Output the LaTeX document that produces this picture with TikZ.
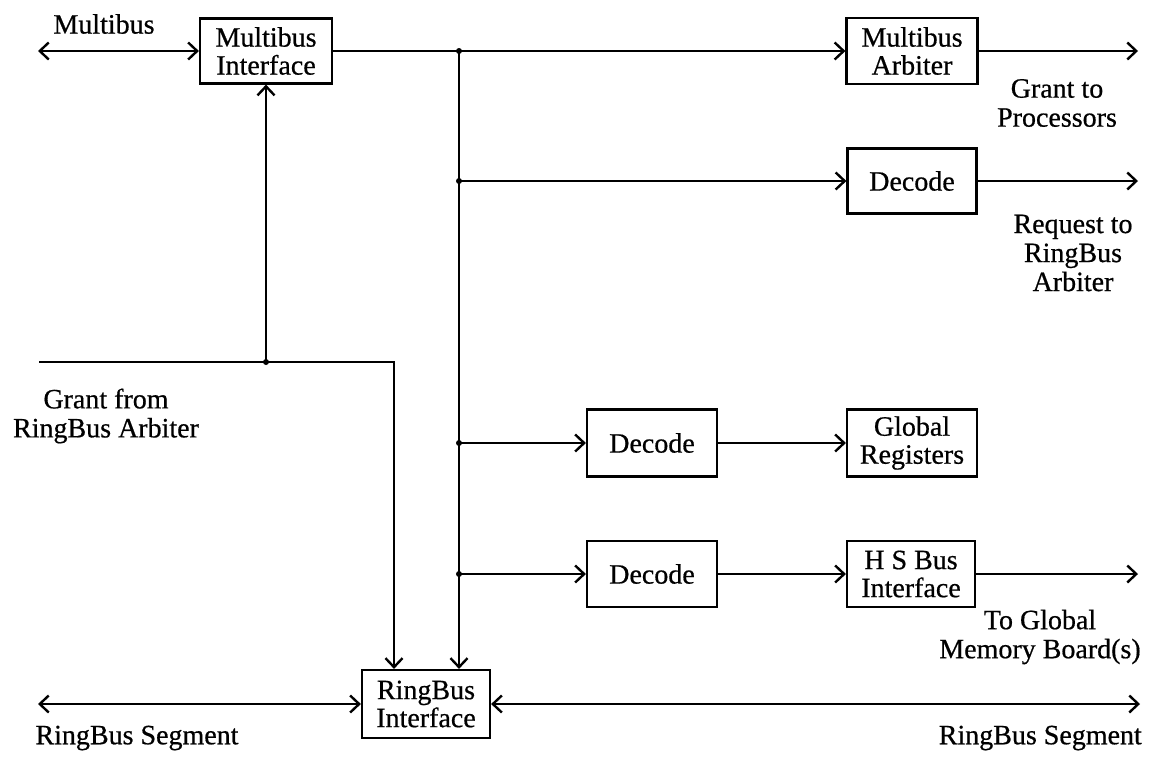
\documentclass[tikz,border=0pt]{standalone}
\usepackage{fontspec}
\setmainfont{Liberation Serif}[FakeBold=0.6]
\usetikzlibrary{arrows.meta}
\begin{document}
\begin{tikzpicture}[x=1pt,y=-1pt,
  line width=2.4pt,
  >={Straight Barb[length=9pt,width=17pt]},
  blk/.style={draw,line width=2.2pt,inner sep=0pt,align=center,font=\fontsize{28}{28}\selectfont},
  lbl/.style={inner sep=0pt,align=center,font=\fontsize{28}{29}\selectfont},
  dot/.style={circle,fill,inner sep=0pt,minimum size=6pt}]
\useasboundingbox (0,0) rectangle (1150,758);
% blocks
\node[blk,minimum width=132pt,minimum height=65pt] (mbi) at (266,51) {Multibus\\Interface};
\node[blk,minimum width=131pt,minimum height=66pt] (mba) at (912,51) {Multibus\\Arbiter};
\node[blk,minimum width=129pt,minimum height=65pt] (dec1) at (912,181) {Decode};
\node[blk,minimum width=130pt,minimum height=67pt] (dec2) at (652,443) {Decode};
\node[blk,minimum width=130pt,minimum height=67pt] (greg) at (912,443) {Global\\Registers};
\node[blk,minimum width=130pt,minimum height=66pt] (dec3) at (652,574) {Decode};
\node[blk,minimum width=128pt,minimum height=66pt] (hsb) at (911,574) {H S Bus\\Interface};
\node[blk,minimum width=128pt,minimum height=68pt] (rbi) at (426,704) {RingBus\\Interface};
% coordinates
\coordinate (mbL) at (38,51);
\coordinate (bus) at (459,51);
\coordinate (grL) at (39,362);
\coordinate (grC) at (394,362);
\coordinate (rbL) at (38,704);
\coordinate (rbR) at (1140,704);
\coordinate (outX) at (1138,0);
% connectors
\draw[<->] (mbL) -- (mbi.west);
\draw[->] (mbi.east) -- (mba.west);
\draw[->] (bus) -- (bus |- rbi.north);
\draw[->] (bus |- dec1) -- (dec1.west);
\draw[->] (bus |- dec2) -- (dec2.west);
\draw[->] (bus |- dec3) -- (dec3.west);
\draw[->] (dec2) -- (greg);
\draw[->] (dec3) -- (hsb);
\draw[->] (mba.east) -- (mba.east -| outX);
\draw[->] (dec1.east) -- (dec1.east -| outX);
\draw[->] (hsb.east) -- (hsb.east -| outX);
\draw[->] (grL) -- (grC) -- (grC |- rbi.north);
\draw[->] (grL -| mbi.south) -- (mbi.south);
\draw[<->] (rbL) -- (rbi.west);
\draw[<->] (rbi.east) -- (rbR);
% junction dots
\node[dot] (d1) at (bus) {};
\node[dot] (d2) at (bus |- dec1) {};
\node[dot] (d3) at (bus |- dec2) {};
\node[dot] (d4) at (bus |- dec3) {};
\node[dot] (d5) at (grL -| mbi.south) {};
% labels
\node[lbl] (tmb) at (104,24) {Multibus};
\node[lbl] (tgp) at (1057,103) {Grant to\\Processors};
\node[lbl] (trq) at (1073,253) {Request to\\RingBus\\Arbiter};
\node[lbl] (tgf) at (106,416) {Grant from\\RingBus Arbiter};
\node[lbl] (tgm) at (1040,637) {To Global\\Memory Board(s)};
\node[lbl] (trl) at (137,738) {RingBus Segment};
\node[lbl,anchor=east] (trr) at (1143,738) {RingBus Segment};
\end{tikzpicture}
\end{document}
